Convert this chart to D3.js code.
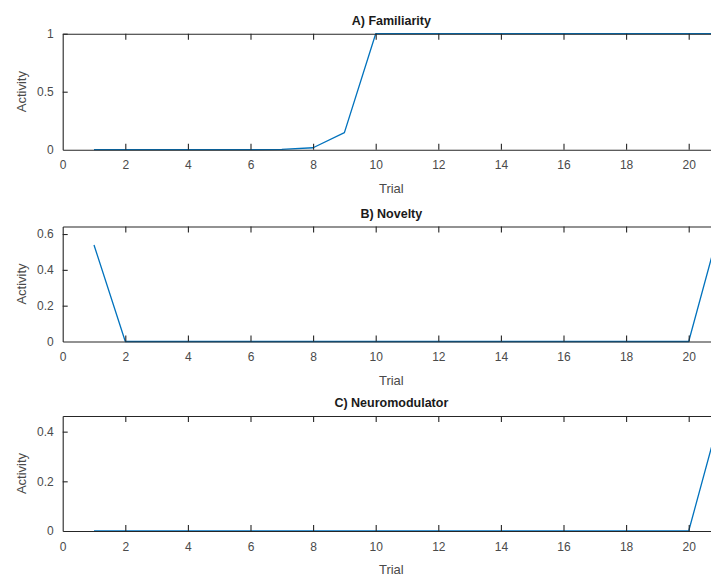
<!DOCTYPE html>
<html>
<head>
<meta charset="utf-8">
<script src="https://cdn.jsdelivr.net/npm/d3@7"></script>
<style>
  body { margin: 0; background: #fff; }
  svg { display: block; overflow: hidden; }
  text { font-family: "Liberation Sans", Arial, Helvetica, sans-serif; }
</style>
</head>
<body>
<div id="wrapper"></div>
<script>
// Data
const trials = [1, 2, 3, 4, 5, 6, 7, 8, 9, 10, 11, 12, 13, 14, 15, 16, 17, 18, 19, 20, 21];
const familiarity = [0, 0, 0, 0, 0, 0, 0.002, 0.017, 0.147, 1, 1, 1, 1, 1, 1, 1, 1, 1, 1, 1, 1];
const novelty = [0.539, 0, 0, 0, 0, 0, 0, 0, 0, 0, 0, 0, 0, 0, 0, 0, 0, 0, 0, 0, 0.642];
const neuromodulator = [0, 0, 0, 0, 0, 0, 0, 0, 0, 0, 0, 0, 0, 0, 0, 0, 0, 0, 0, 0, 0.463];

const xTicks = [0, 2, 4, 6, 8, 10, 12, 14, 16, 18, 20];
const xDomain = [0, 21];

const panels = [
  { title: "A) Familiarity", values: familiarity, yMax: 1, yTicks: [0, 0.5, 1], top: 33.7, bottom: 149.7 },
  { title: "B) Novelty", values: novelty, yMax: 0.642, yTicks: [0, 0.2, 0.4, 0.6], top: 226.5, bottom: 341.5 },
  { title: "C) Neuromodulator", values: neuromodulator, yMax: 0.463, yTicks: [0, 0.2, 0.4], top: 416, bottom: 531 },
];

const dimensions = {
  width: 711,
  height: 579,
  left: 62.7,
  right: 720,
};

const axisColor = "#262626";
const textColor = "#4a4a4a";
const lineColor = "#0072BD";

const svg = d3.select("#wrapper")
  .append("svg")
  .attr("width", dimensions.width)
  .attr("height", dimensions.height);

const xScale = d3.scaleLinear()
  .domain(xDomain)
  .range([dimensions.left, dimensions.right]);

panels.forEach((p) => {
  const yScale = d3.scaleLinear()
    .domain([0, p.yMax])
    .range([p.bottom, p.top]);

  const g = svg.append("g");

  // data line
  const lineGenerator = d3.line()
    .x((d, i) => xScale(trials[i]))
    .y((d) => yScale(d));

  g.append("path")
    .attr("d", lineGenerator(p.values))
    .attr("fill", "none")
    .attr("stroke", lineColor)
    .attr("stroke-width", 1.3)
    .attr("stroke-linejoin", "round");

  // bottom axis, ticks pointing inward
  const xAxis = g.append("g")
    .attr("transform", `translate(0,${p.bottom})`)
    .call(d3.axisBottom(xScale).tickValues(xTicks).tickSize(-6).tickPadding(11).tickSizeOuter(0).tickFormat(d3.format("d")));

  // top axis (box), ticks only
  const xTop = g.append("g")
    .attr("transform", `translate(0,${p.top})`)
    .call(d3.axisTop(xScale).tickValues(xTicks).tickSize(-6).tickSizeOuter(0).tickFormat(""));

  // left axis
  const yAxis = g.append("g")
    .attr("transform", `translate(${dimensions.left},0)`)
    .call(d3.axisLeft(yScale).tickValues(p.yTicks).tickSize(-5).tickPadding(9).tickSizeOuter(0).tickFormat((d) => d3.format("")(+d.toFixed(2))));

  [xAxis, xTop, yAxis].forEach((ax) => {
    ax.select(".domain").attr("stroke", axisColor).attr("stroke-width", 1.1);
    ax.selectAll(".tick line").attr("stroke", axisColor).attr("stroke-width", 1.1);
    ax.selectAll(".tick text")
      .attr("fill", textColor)
      .style("font-size", "12px");
  });
  xTop.selectAll(".tick").filter((d) => d === 0).remove();
  xAxis.selectAll(".tick line").filter((d) => d === 0).remove();
  yAxis.selectAll(".tick line").filter((d, i) => i === 0).remove();

  // right spine (falls outside the visible window)
  g.append("line")
    .attr("x1", dimensions.right).attr("x2", dimensions.right)
    .attr("y1", p.top).attr("y2", p.bottom)
    .attr("stroke", axisColor);

  // title
  g.append("text")
    .attr("x", (dimensions.left + dimensions.right) / 2)
    .attr("y", p.top - 9)
    .attr("text-anchor", "middle")
    .style("font-size", "12.5px")
    .style("font-weight", "bold")
    .attr("fill", "#1a1a1a")
    .text(p.title);

  // x label
  g.append("text")
    .attr("x", (dimensions.left + dimensions.right) / 2)
    .attr("y", p.bottom + 43)
    .attr("text-anchor", "middle")
    .style("font-size", "13px")
    .attr("fill", textColor)
    .text("Trial");

  // y label
  g.append("text")
    .attr("transform", `translate(26,${(p.top + p.bottom) / 2}) rotate(-90)`)
    .attr("text-anchor", "middle")
    .style("font-size", "13px")
    .attr("fill", textColor)
    .text("Activity");
});
</script>
</body>
</html>
